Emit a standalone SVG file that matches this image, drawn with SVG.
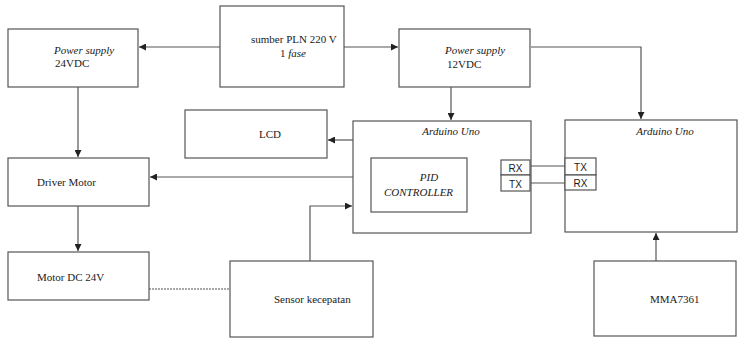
<svg xmlns="http://www.w3.org/2000/svg" width="739" height="338" viewBox="0 0 739 338">
<defs>
<style>
.box{fill:#fff;stroke:#555;stroke-width:1.2}
.t{font-family:"Liberation Serif","Times New Roman",serif;font-size:11px;fill:#1a1a1a}
.i{font-style:italic}
.s{font-family:"Liberation Sans",Arial,sans-serif;font-size:10px;fill:#1a1a1a}
.c{fill:none;stroke:#555;stroke-width:1.2}
.d{fill:none;stroke:#555;stroke-width:1.2;stroke-dasharray:2 1}
</style>
<marker id="ah" viewBox="0 0 10 10" refX="10" refY="5" markerWidth="7" markerHeight="7" markerUnits="userSpaceOnUse" orient="auto">
<path d="M0,0 L10,5 L0,10 z" fill="#222"/>
</marker>
</defs>
<rect width="739" height="338" fill="#fff"/>
<g id="connectors">
<line class="c" x1="220" y1="47" x2="139" y2="47" marker-end="url(#ah)"/>
<line class="c" x1="344" y1="47" x2="398" y2="47" marker-end="url(#ah)"/>
<polyline class="c" points="531,47 641,47 641,119" marker-end="url(#ah)"/>
<line class="c" x1="451" y1="87" x2="451" y2="120" marker-end="url(#ah)"/>
<line class="c" x1="78" y1="87" x2="78" y2="157" marker-end="url(#ah)"/>
<line class="c" x1="353" y1="140" x2="328" y2="140" marker-end="url(#ah)"/>
<line class="c" x1="353" y1="177" x2="150" y2="177" marker-end="url(#ah)"/>
<line class="c" x1="78" y1="206" x2="78" y2="251" marker-end="url(#ah)"/>
<line class="d" x1="149" y1="289" x2="230" y2="289"/>
<polyline class="c" points="310,261 310,206 352,206" marker-end="url(#ah)"/>
<line class="c" x1="656" y1="261" x2="656" y2="233" marker-end="url(#ah)"/>
<line class="c" x1="530" y1="166" x2="565" y2="166"/>
<line class="c" x1="530" y1="183" x2="565" y2="183"/>
</g>
<g id="pln">
<rect class="box" x="220" y="6" width="124" height="81"/>
<text class="t" x="251" y="43">sumber PLN 220 V</text>
<text class="t" x="293" y="57" text-anchor="middle">1 <tspan class="i">fase</tspan></text>
</g>
<g id="ps24">
<rect class="box" x="8" y="29" width="130" height="58"/>
<text class="t i" x="54" y="54">Power supply</text>
<text class="t" x="55" y="67">24VDC</text>
</g>
<g id="ps12">
<rect class="box" x="399" y="29" width="131" height="58"/>
<text class="t i" x="445" y="54">Power supply</text>
<text class="t" x="447" y="68">12VDC</text>
</g>
<g id="lcd">
<rect class="box" x="185" y="110" width="142" height="48"/>
<text class="t" x="270" y="138" text-anchor="middle">LCD</text>
</g>
<g id="driver">
<rect class="box" x="8" y="158" width="141" height="48"/>
<text class="t" x="37" y="186">Driver Motor</text>
</g>
<g id="motor">
<rect class="box" x="8" y="252" width="141" height="48"/>
<text class="t" x="37" y="281">Motor DC 24V</text>
</g>
<g id="sensor">
<rect class="box" x="230" y="261" width="143" height="76"/>
<text class="t" x="274" y="303">Sensor kecepatan</text>
</g>
<g id="arduino1">
<rect class="box" x="353" y="121" width="178" height="112"/>
<text class="t i" x="451" y="135" text-anchor="middle">Arduino Uno</text>
<rect class="box" x="371" y="158" width="96" height="54"/>
<text class="t i" x="429" y="181" text-anchor="middle">PID</text>
<text class="t i" x="384" y="196">CONTROLLER</text>
<rect class="box" x="501" y="160" width="29" height="15"/>
<text class="s" x="515.5" y="172" text-anchor="middle">RX</text>
<rect class="box" x="501" y="175" width="29" height="16"/>
<text class="s" x="515.5" y="188" text-anchor="middle">TX</text>
</g>
<g id="arduino2">
<rect class="box" x="565" y="120" width="172" height="112"/>
<text class="t i" x="665" y="135" text-anchor="middle">Arduino Uno</text>
<rect class="box" x="565" y="158" width="31" height="17"/>
<text class="s" x="580.5" y="171" text-anchor="middle">TX</text>
<rect class="box" x="565" y="175" width="31" height="15"/>
<text class="s" x="580.5" y="187" text-anchor="middle">RX</text>
</g>
<g id="mma">
<rect class="box" x="594" y="261" width="142" height="75"/>
<text class="t" x="650" y="303">MMA7361</text>
</g>
</svg>
